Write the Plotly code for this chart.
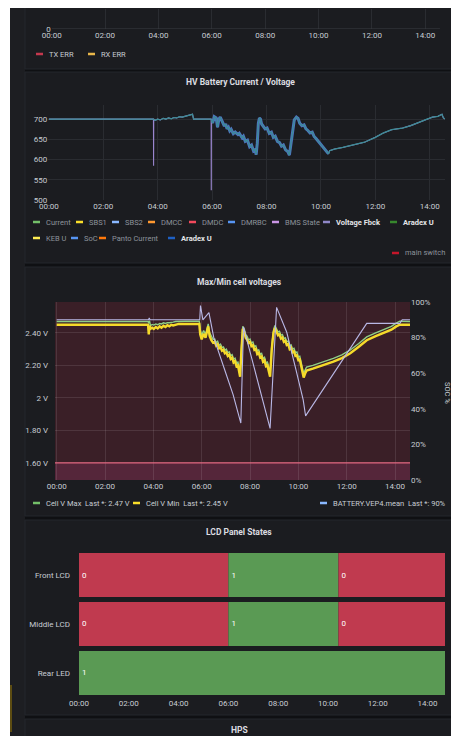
import plotly.graph_objects as go

W, H = 459, 736
OFF = 8  # page margin of the browser body

# ---------------- data ----------------
tick_hours = [0, 2, 4, 6, 8, 10, 12, 14]
tick_labels = ["00:00", "02:00", "04:00", "06:00", "08:00", "10:00", "12:00", "14:00"]

# HV battery voltage (Aradex U / Voltage Fbck), hours since 00:00
hv_hours = [0.0, 3.84, 3.9, 4.0, 4.1, 4.2, 4.3, 4.4, 4.5, 4.6, 4.7, 4.8, 4.9, 5.0, 5.1, 5.2, 5.28,
            5.32, 5.96, 6.02, 6.08, 6.15, 6.2, 6.25, 6.3, 6.38, 6.45, 6.5, 6.55, 6.6, 6.65, 6.7,
            6.78, 6.85, 6.95, 7.0, 7.1, 7.15, 7.22, 7.3, 7.38, 7.45, 7.52, 7.58, 7.62, 7.66, 7.7,
            7.74, 7.78, 7.82, 7.88, 7.95, 8.02, 8.1, 8.18, 8.25, 8.32, 8.4, 8.48, 8.55, 8.62, 8.7,
            8.78, 8.84, 8.88, 8.95, 9.02, 9.1, 9.16, 9.22, 9.3, 9.38, 9.45, 9.52, 9.6, 9.68, 9.75,
            9.82, 9.9, 9.98, 10.05, 10.12, 10.2, 10.28, 10.32, 10.5, 10.8, 11.2, 11.6, 12.0, 12.3,
            12.6, 13.0, 13.3, 13.6, 13.9, 14.1, 14.3, 14.45, 14.5, 14.58]
hv_volts = [700, 700, 697, 700, 698, 702, 700, 703, 701, 704, 703, 706, 705, 707, 708, 711, 712,
            700, 700, 690, 706, 703, 680, 700, 705, 693, 683, 688, 676, 680, 671, 675,
            664, 668, 662, 665, 654, 658, 645, 648, 632, 636, 622, 626, 612, 640, 690,
            703, 700, 688, 682, 676, 678, 665, 668, 655, 658, 645, 642, 633, 636, 624,
            620, 611, 630, 670, 698, 705, 702, 690, 684, 686, 676, 672, 666, 668, 657,
            652, 645, 640, 632, 626, 618, 614, 622, 626, 630, 636, 643, 655, 666,
            674, 678, 684, 693, 700, 705, 707, 712, 703, 700]
spike_hours = [3.85, 5.97]
spike_volts = [585, 524]
hv_ticks = [500, 550, 600, 650, 700]

# Max / Min cell voltages
cell_hours = [0.00, 3.78, 3.81, 3.84, 3.88, 3.95, 4.02, 4.10, 4.18, 4.26, 4.34, 4.42, 4.50, 4.58,
              4.66, 4.74, 4.82, 4.92, 5.05, 5.30, 5.90, 5.94, 6.00, 6.08, 6.16, 6.27, 6.33, 6.40,
              6.47, 6.54, 6.60, 6.66, 6.72, 6.78, 6.84, 6.90, 6.96, 7.02, 7.08, 7.14, 7.20, 7.26,
              7.32, 7.38, 7.44, 7.50, 7.55, 7.59, 7.64, 7.70, 7.76, 7.82, 7.88, 7.94, 8.00, 8.06,
              8.12, 8.18, 8.24, 8.30, 8.36, 8.42, 8.48, 8.54, 8.60, 8.66, 8.72, 8.78, 8.83, 8.90,
              8.97, 9.03, 9.10, 9.16, 9.22, 9.28, 9.34, 9.40, 9.46, 9.52, 9.58, 9.64, 9.70, 9.76,
              9.82, 9.88, 9.94, 10.00, 10.06, 10.12, 10.18, 10.22, 10.28, 10.34, 10.60, 10.90,
              11.20, 11.45, 11.80, 12.15, 12.50, 12.83, 13.20, 13.52, 13.85, 14.05, 14.20, 14.62]
cell_vmin = [2.450, 2.450, 2.390, 2.445, 2.425, 2.432, 2.424, 2.436, 2.428, 2.440, 2.432, 2.444,
             2.436, 2.447, 2.440, 2.450, 2.446, 2.452, 2.455, 2.455, 2.455, 2.390, 2.360, 2.395,
             2.370, 2.440, 2.380, 2.355, 2.340, 2.345, 2.322, 2.330, 2.305, 2.312, 2.290, 2.296,
             2.275, 2.280, 2.258, 2.266, 2.240, 2.248, 2.218, 2.226, 2.195, 2.200, 2.165, 2.130,
             2.280, 2.425, 2.405, 2.370, 2.358, 2.338, 2.344, 2.318, 2.324, 2.296, 2.302, 2.270,
             2.278, 2.248, 2.255, 2.222, 2.230, 2.195, 2.200, 2.160, 2.130, 2.300, 2.400, 2.430,
             2.405, 2.385, 2.390, 2.365, 2.372, 2.345, 2.352, 2.325, 2.330, 2.300, 2.308, 2.280,
             2.286, 2.258, 2.262, 2.232, 2.236, 2.195, 2.150, 2.125, 2.150, 2.168, 2.180, 2.195,
             2.210, 2.223, 2.245, 2.275, 2.315, 2.355, 2.380, 2.398, 2.420, 2.440, 2.450, 2.450]
cell_vmax = [2.470, 2.470, 2.460, 2.475, 2.445, 2.452, 2.448, 2.455, 2.450, 2.458, 2.455, 2.462,
             2.458, 2.463, 2.462, 2.466, 2.466, 2.470, 2.472, 2.472, 2.472, 2.420, 2.385, 2.415,
             2.390, 2.455, 2.400, 2.375, 2.360, 2.362, 2.340, 2.348, 2.322, 2.330, 2.310, 2.314,
             2.293, 2.300, 2.278, 2.284, 2.260, 2.266, 2.238, 2.245, 2.215, 2.220, 2.190, 2.160,
             2.300, 2.440, 2.425, 2.390, 2.378, 2.356, 2.362, 2.336, 2.344, 2.315, 2.320, 2.290,
             2.296, 2.268, 2.274, 2.242, 2.250, 2.215, 2.220, 2.180, 2.155, 2.320, 2.415, 2.445,
             2.420, 2.405, 2.410, 2.385, 2.390, 2.365, 2.370, 2.345, 2.350, 2.320, 2.326, 2.300,
             2.305, 2.278, 2.282, 2.252, 2.256, 2.215, 2.175, 2.150, 2.172, 2.190, 2.200, 2.215,
             2.230, 2.243, 2.265, 2.295, 2.335, 2.375, 2.400, 2.418, 2.440, 2.460, 2.472, 2.470]
soc_hours = [0.0, 3.8, 3.83, 3.86, 5.92, 5.95, 6.05, 6.3, 6.5, 6.76, 7.0, 7.3, 7.59, 7.62, 7.73,
             8.2, 8.5, 8.83, 9.1, 9.52, 9.9, 10.2, 10.3, 12.83, 14.2, 14.3, 14.62]
soc_values = [90, 90, 91, 90, 90, 98, 90, 94, 80, 69, 60, 48, 33, 32, 86,
              62, 46, 29, 97, 83, 62, 45, 36, 88, 88, 90, 90]
cell_ticks = [1.6, 1.8, 2.0, 2.2, 2.4]
cell_tick_labels = ["1.60 V", "1.80 V", "2 V", "2.20 V", "2.40 V"]
soc_ticks = [0, 20, 40, 60, 80, 100]
soc_tick_labels = ["0%", "20%", "40%", "60%", "80%", "100%"]
cell_threshold = 1.6

# LCD panel states
lcd_panels = ["Front LCD", "Middle LCD", "Rear LED"]
lcd_starts = [[0.0, 6.0, 10.42], [0.0, 6.0, 10.42], [0.0]]
lcd_states = [[0, 1, 0], [0, 1, 0], [1]]
lcd_end = 14.7

# ---------------- helpers ----------------
def fx(px):
    return (px - OFF) / W

def fy(py):
    return 1 - (py - OFF) / H

FONT = "Roboto"
TXT = "#c7ccd3"
GRID = "#2a2c31"
PANEL = "#1b1c20"

shapes = []
annotations = []

def rect(x0, y0, x1, y1, color, line=None):
    shapes.append(dict(type="rect", xref="paper", yref="paper", x0=fx(x0), x1=fx(x1),
                       y0=fy(y1), y1=fy(y0), fillcolor=color, layer="below",
                       line=dict(width=1 if line else 0, color=line or color)))

def text(x, y, s, size=8, color=TXT, anchor="left", bold=False, angle=0):
    annotations.append(dict(xref="paper", yref="paper", x=fx(x), y=fy(y), text=("<b>%s</b>" % s) if bold else s,
                            showarrow=False, xanchor=anchor, yanchor="middle", textangle=angle,
                            font=dict(family=FONT, size=size, color=color)))

def legend_item(x, y, color, label, label_color="#9da3ab", bold=False):
    shapes.append(dict(type="line", xref="paper", yref="paper", x0=fx(x), x1=fx(x + 7),
                       y0=fy(y), y1=fy(y), line=dict(color=color, width=2.5)))
    text(x + 11, y, label, size=7.5, color=label_color, bold=bold)

# ---------------- background / panels ----------------
rect(8, 8, 25, 760, "#1d1e22")
rect(10, 685, 12, 732, "#5c4c12")
rect(25, 0, 452, 69, PANEL, "#25272c")
rect(25, 72, 452, 263, PANEL, "#25272c")
rect(25, 267, 452, 516, PANEL, "#25272c")
rect(25, 520, 452, 715, PANEL, "#25272c")
rect(25, 719, 452, 760, PANEL, "#25272c")
# white page edges
rect(7, 0, 10, 760, "#ffffff")
rect(455, 0, 480, 760, "#ffffff")

fig = go.Figure()

# ---------------- panel 1 (top, cut) ----------------
fig.add_trace(go.Scatter(x=[0, 14.55], y=[0, 0], xaxis="x", yaxis="y", mode="lines",
                         line=dict(color="#3a3c42", width=1), showlegend=False, hoverinfo="skip"))
legend_item(36, 54, "#c4384e", "TX ERR", label_color=TXT)
legend_item(88, 54, "#e8b64a", "RX ERR", label_color=TXT)

# ---------------- panel 2: HV battery ----------------
fb_pairs = sorted(list(zip(hv_hours, hv_volts)) +
                  [(h - 0.005, 700) for h in spike_hours] + list(zip(spike_hours, spike_volts)) +
                  [(h + 0.005, 700) for h in spike_hours])
fig.add_trace(go.Scatter(x=[p[0] for p in fb_pairs], y=[p[1] for p in fb_pairs], xaxis="x2", yaxis="y2",
                         mode="lines", line=dict(color="#9a86cf", width=1.1), showlegend=False,
                         name="Voltage Fbck"))
band_h = [h for h in hv_hours if 6.0 <= h <= 10.3]
band_v = [v for h, v in zip(hv_hours, hv_volts) if 6.0 <= h <= 10.3]
fig.add_trace(go.Scatter(x=band_h, y=band_v, xaxis="x2", yaxis="y2", mode="lines",
                         line=dict(color="#4e74bf", width=3), showlegend=False, name="Aradex U"))
fig.add_trace(go.Scatter(x=hv_hours, y=hv_volts, xaxis="x2", yaxis="y2", mode="lines",
                         line=dict(color="#3b8c95", width=1.2), showlegend=False, name="Aradex U"))

text(240, 82, "HV Battery Current / Voltage", size=8.5, color="#dcdde0", anchor="center", bold=True)
row1 = [(33, "#73BF69", "Current", False), (76, "#FADE2A", "SBS1", False), (112, "#8AB8FF", "SBS2", False),
        (148, "#FF9830", "DMCC", False), (189, "#F2495C", "DMDC", False), (228, "#5794F2", "DMRBC", False),
        (272, "#CA95E5", "BMS State", False), (323, "#8F87C8", "Voltage Fbck", True),
        (390, "#37872D", "Aradex U", True)]
for x, c, lab, b in row1:
    legend_item(x, 222, c, lab, label_color="#e4e5e8" if b else "#8d939b", bold=b)
row2 = [(33, "#FFEE52", "KEB U", False), (71, "#5794F2", "SoC", False),
        (99, "#FF780A", "Panto Current", False), (168, "#1F60C4", "Aradex U", True)]
for x, c, lab, b in row2:
    legend_item(x, 238, c, lab, label_color="#e4e5e8" if b else "#8d939b", bold=b)
legend_item(392, 253, "#C4162A", "main switch", label_color="#8d939b")

# ---------------- panel 3: cell voltages ----------------
shapes.append(dict(type="rect", xref="x3 domain", yref="y3 domain", x0=0, x1=1, y0=0, y1=1,
                   fillcolor="#3a1f27", line=dict(width=0), layer="below"))
shapes.append(dict(type="rect", xref="x3 domain", yref="y3", x0=0, x1=1, y0=1.495, y1=cell_threshold,
                   fillcolor="#55263a", line=dict(width=0), layer="below"))
shapes.append(dict(type="line", xref="x3 domain", yref="y3", x0=0, x1=1, y0=cell_threshold, y1=cell_threshold,
                   line=dict(color="#e0647e", width=1.3), layer="above"))
fig.add_trace(go.Scatter(x=soc_hours, y=soc_values, xaxis="x3", yaxis="y4", mode="lines",
                         line=dict(color="#b9b8e6", width=1.1), showlegend=False, name="BATTERY.VEP4.mean"))
fig.add_trace(go.Scatter(x=cell_hours, y=cell_vmax, xaxis="x3", yaxis="y3", mode="lines",
                         line=dict(color="#8fcf86", width=1.4), showlegend=False, name="Cell V Max"))
fig.add_trace(go.Scatter(x=cell_hours, y=cell_vmin, xaxis="x3", yaxis="y3", mode="lines",
                         line=dict(color="#F5DA2A", width=2.4), showlegend=False, name="Cell V Min"))
text(239, 282, "Max/Min cell voltages", size=8.5, color="#dcdde0", anchor="center", bold=True)
text(448, 393, "SOC %", size=7.5, color=TXT, anchor="center", angle=90)
legend_item(33, 503, "#73BF69", "Cell V Max  Last *: 2.47 V", label_color=TXT)
legend_item(133, 503, "#FADE2A", "Cell V Min  Last *: 2.45 V", label_color=TXT)
legend_item(320, 503, "#8AB8FF", "BATTERY.VEP4.mean  Last *: 90%", label_color=TXT)

# ---------------- panel 4: LCD states ----------------
state_colors = {0: "#c03a4f", 1: "#5a9a54"}
for name, starts, states in zip(lcd_panels, lcd_starts, lcd_states):
    ends = starts[1:] + [lcd_end]
    fig.add_trace(go.Bar(y=[name] * len(starts), x=[e - s for s, e in zip(starts, ends)], base=starts,
                         orientation="h", xaxis="x5", yaxis="y5",
                         marker=dict(color=[state_colors[s] for s in states], line=dict(width=0)),
                         text=[str(s) for s in states], textposition="inside", insidetextanchor="start",
                         textfont=dict(family=FONT, size=8, color="#ffffff"), constraintext="none",
                         showlegend=False, name=name))
text(239, 532, "LCD Panel States", size=8.5, color="#dcdde0", anchor="center", bold=True)
text(239, 730, "HPS", size=8.5, color="#dcdde0", anchor="center", bold=True)

# ---------------- axes ----------------
tickfont = dict(family=FONT, size=8, color=TXT)

def xax(d0, d1, rng, anchor, grid=GRID, show=True):
    return dict(domain=[fx(d0), fx(d1)], range=rng, anchor=anchor, tickvals=tick_hours, ticktext=tick_labels,
                showgrid=show, gridcolor=grid, gridwidth=1, zeroline=False, showline=False,
                tickfont=tickfont, ticks="", fixedrange=True, automargin=False)

fig.update_layout(
    width=W, height=H, margin=dict(l=0, r=0, t=0, b=0, autoexpand=False),
    paper_bgcolor="#0f1013", plot_bgcolor="rgba(0,0,0,0)",
    showlegend=False, barmode="overlay", bargap=0.1,
    font=dict(family=FONT, size=8, color=TXT),
    xaxis=xax(51.7, 440, [0, 14.55], "y"),
    yaxis=dict(domain=[fy(29), fy(9)], range=[0, 1], anchor="x", tickvals=[0], ticktext=["0"],
               showgrid=False, zeroline=False, tickfont=tickfont, ticks="", fixedrange=True, automargin=False),
    xaxis2=xax(48.3, 445, [-0.02, 14.56], "y2"),
    yaxis2=dict(domain=[fy(200), fy(105)], range=[500, 735], anchor="x2", tickvals=hv_ticks,
                showgrid=True, gridcolor=GRID, zeroline=False, tickfont=tickfont, ticks="", fixedrange=True,
                automargin=False),
    xaxis3=xax(55, 410, [-0.07, 14.62], "y3", grid="rgba(255,255,255,0.10)"),
    yaxis3=dict(domain=[fy(480), fy(302)], range=[1.495, 2.59], anchor="x3", tickvals=cell_ticks,
                ticktext=cell_tick_labels, showgrid=True, gridcolor="rgba(255,255,255,0.10)",
                zeroline=False, tickfont=tickfont, ticks="", ticklabelstandoff=6, fixedrange=True,
                automargin=False),
    yaxis4=dict(overlaying="y3", side="right", anchor="x3", range=[0, 100], tickvals=soc_ticks,
                ticktext=soc_tick_labels, showgrid=False, zeroline=False, tickfont=tickfont, ticks="",
                fixedrange=True, automargin=False),
    xaxis5=xax(79, 445, [0, lcd_end], "y5", show=False),
    yaxis5=dict(domain=[fy(697.4), fy(550.6)], anchor="x5", type="category", categoryarray=lcd_panels,
                categoryorder="array", autorange="reversed", showgrid=False, zeroline=False,
                tickfont=tickfont, ticks="", ticklabelstandoff=8, fixedrange=True, automargin=False),
    shapes=shapes, annotations=annotations,
)

fig.write_html("out.html")
